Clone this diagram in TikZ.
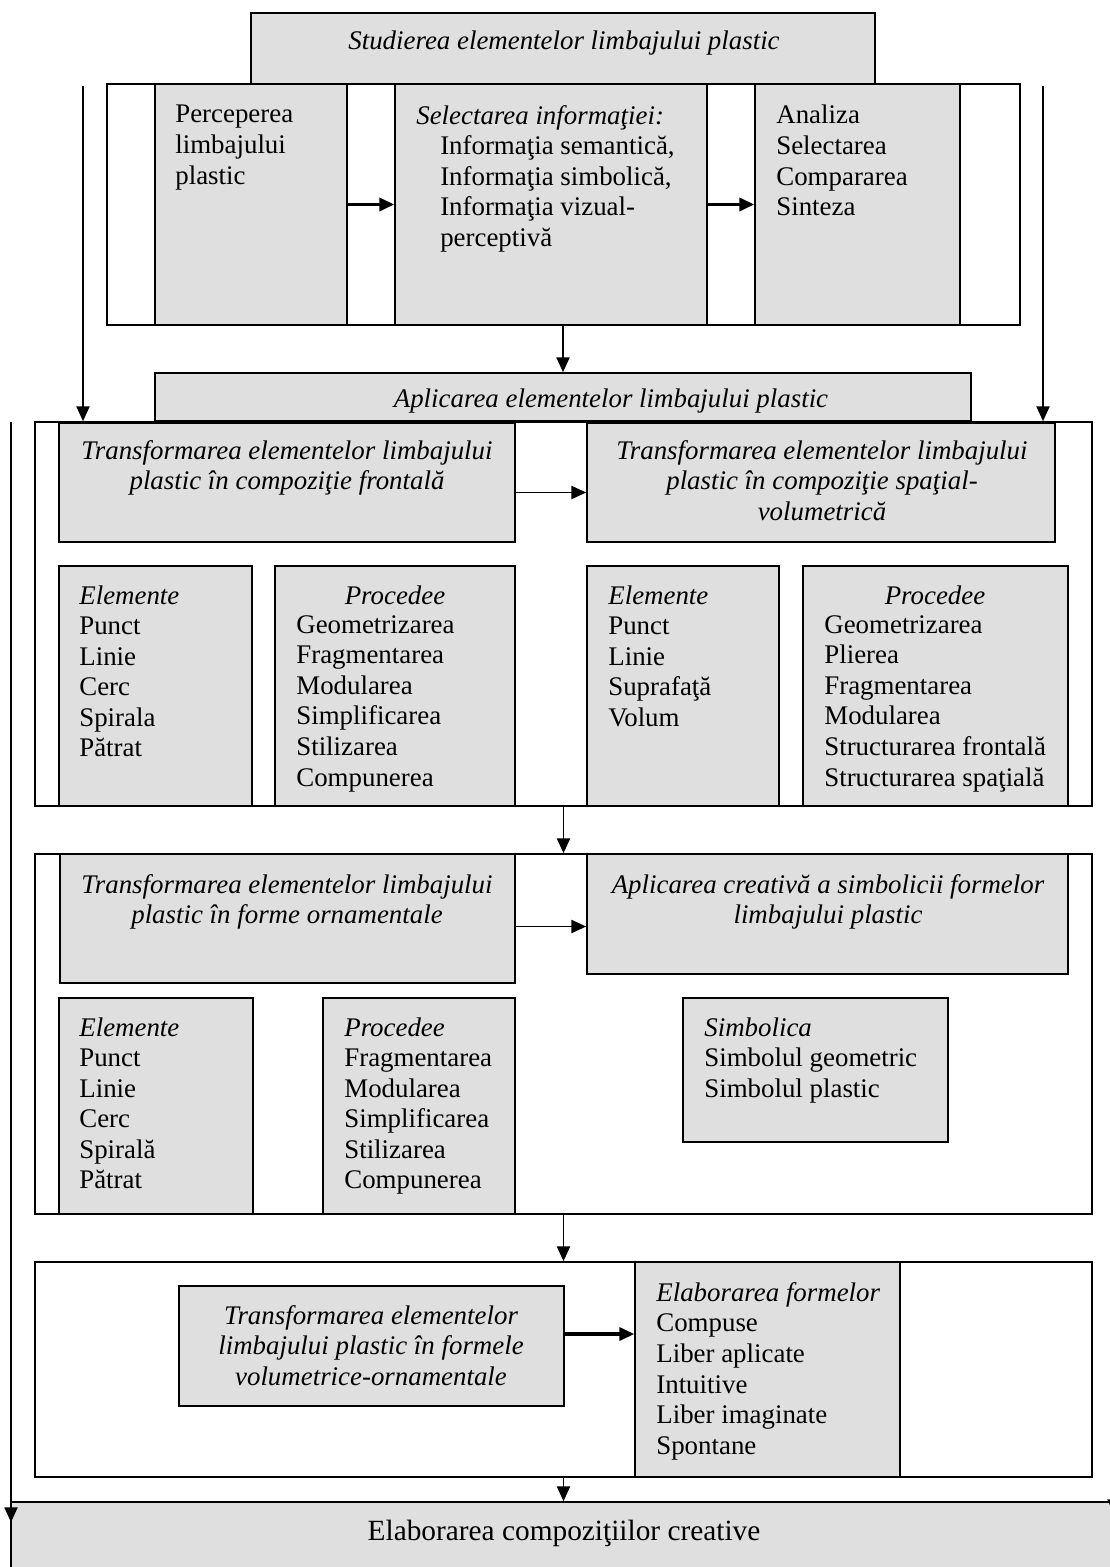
\documentclass[tikz,border=0pt]{standalone}
\usepackage{fontspec}
\setmainfont{Liberation Serif}
\usepackage{tikz}
\usetikzlibrary{arrows.meta,calc,fit}
\definecolor{grigio}{RGB}{223,223,223}
\newcommand{\marime}{\fontsize{15.3}{17.4}\selectfont}
\tikzset{
>={Triangle[length=8.5pt,width=7.5pt]},
cutie/.style={draw,fill=grigio,inner sep=0pt,line width=0.9pt},
cadru/.style={draw,inner sep=0pt,line width=0.9pt},
scris/.style={inner sep=0pt,align=left,anchor=north west},
titlu/.style={inner sep=0pt,align=center,anchor=north,font=\marime\itshape},
sageata/.style={->,line width=1pt},
sageatagr/.style={->,line width=1.8pt}}

\begin{document}
\begin{tikzpicture}[x=0.02cm,y=-0.02cm,inner sep=0pt,font=\marime]
\useasboundingbox (0,0) rectangle (1109,1567);

\node[cadru,fit={(107,84) (1020,325)}] (c1) {};
\node[cadru,fit={(35,422) (1092,806)}] (c2) {};
\node[cadru,fit={(35,854) (1092,1214)}] (c3) {};
\node[cadru,fit={(35,1262) (1092,1477)}] (c4) {};

\node[cutie,fit={(251,13) (875,84)}] (1) {};
\node[cutie,fit={(155,84) (347,325)}] (2) {};
\node[cutie,fit={(395,84) (707,325)}] (3) {};
\node[cutie,fit={(755,84) (960,325)}] (4) {};
\node[cutie,fit={(155,373) (971,421)}] (5) {};
\node[cutie,fit={(59,423) (515,542)}] (6) {};
\node[cutie,fit={(587,423) (1055,542)}] (7) {};
\node[cutie,fit={(59,566) (252,806)}] (8) {};
\node[cutie,fit={(275,566) (515,806)}] (9) {};
\node[cutie,fit={(587,566) (779,806)}] (10) {};
\node[cutie,fit={(803,566) (1068,806)}] (11) {};
\node[cutie,fit={(60,854) (515,983)}] (12) {};
\node[cutie,fit={(587,854) (1068,974)}] (13) {};
\node[cutie,fit={(59,998) (253,1214)}] (14) {};
\node[cutie,fit={(323,998) (515,1214)}] (15) {};
\node[cutie,fit={(683,998) (948,1142)}] (16) {};
\node[cutie,fit={(179,1286) (564,1406)}] (17) {};
\node[cutie,fit={(635,1262) (900,1477)}] (18) {};
\node[cutie,fit={(11,1502) (1130,1600)}] (19) {};

\node[titlu,anchor=center] (t1) at (564,43) {Studierea elementelor limbajului plastic};
\node[scris] (t2) at (175,105) {Perceperea\\limbajului\\plastic};
\node[scris] (t3) at (416,105) {\textit{Selectarea informaţiei:}\\
  \hspace*{13.6pt}Informaţia semantică,\\
  \hspace*{13.6pt}Informaţia simbolică,\\
  \hspace*{13.6pt}Informaţia vizual-\\
  \hspace*{13.6pt}perceptivă};
\node[scris] (t4) at (776,105) {Analiza\\Selectarea\\Compararea\\Sinteza};
\node[titlu,anchor=center] (t5) at (611,401) {Aplicarea elementelor limbajului plastic};
\node[titlu] (t6) at (287,440) {Transformarea elementelor limbajului\\plastic în compoziţie frontală};
\node[titlu] (t7) at (822,440) {Transformarea elementelor limbajului\\plastic în compoziţie spaţial-\\volumetrică};
\node[scris] (t8) at (79,585) {\textit{Elemente}\\Punct\\Linie\\Cerc\\Spirala\\Pătrat};
\node[titlu] (t9a) at (395,585) {Procedee};
\node[scris] (t9) at (296,615) {Geometrizarea\\Fragmentarea\\Modularea\\Simplificarea\\Stilizarea\\Compunerea};
\node[scris] (t10) at (608,585) {\textit{Elemente}\\Punct\\Linie\\Suprafaţă\\Volum};
\node[titlu] (t11a) at (935,585) {Procedee};
\node[scris] (t11) at (824,615) {Geometrizarea\\Plierea\\Fragmentarea\\Modularea\\Structurarea frontală\\Structurarea spaţială};
\node[titlu] (t12) at (287,874) {Transformarea elementelor limbajului\\plastic în forme ornamentale};
\node[titlu] (t13) at (828,874) {Aplicarea creativă a simbolicii formelor\\limbajului plastic};
\node[scris] (t14) at (79,1017) {\textit{Elemente}\\Punct\\Linie\\Cerc\\Spirală\\Pătrat};
\node[scris] (t15) at (344,1017) {\textit{Procedee}\\Fragmentarea\\Modularea\\Simplificarea\\Stilizarea\\Compunerea};
\node[scris] (t16) at (704,1017) {\textit{Simbolica}\\Simbolul geometric\\Simbolul plastic};
\node[titlu] (t17) at (371,1305) {Transformarea elementelor\\limbajului plastic în formele\\volumetrice-ornamentale};
\node[scris] (t18) at (656,1282) {\textit{Elaborarea formelor}\\Compuse\\Liber aplicate\\Intuitive\\Liber imaginate\\Spontane};
\node[anchor=center,font=\fontsize{16.7}{20}\selectfont] (t19) at (564,1533) {Elaborarea compoziţiilor creative};

\coordinate (a1) at (83,86);
\coordinate (a2) at (1043,86);
\coordinate (a3) at (11,422);
\coordinate (a4) at (1114,422);

\path[sageatagr] (2.east) edge (3.west);
\path[sageatagr] (3.east) edge (4.west);
\path[sageata] (5.north |- c1.south) edge (5.north);
\path[sageata] (a1) edge (a1 |- c2.north);
\path[sageata] (a2) edge (a2 |- c2.north);
\path[sageata] ($(6.east)+(0,10)$) edge ($(7.west)+(0,10)$);
\path[sageata] (c2.south) edge (c3.north);
\path[sageata] ($(12.east)+(0,8)$) coordinate (b1) edge (b1 -| 13.west);
\path[sageata] (c3.south) edge (c4.north);
\path[sageatagr] ($(17.east)+(0,-12)$) coordinate (b2) edge (b2 -| 18.west);
\path[sageata] (c4.south) edge (c4.south |- 19.north);
\path[sageata] (a3) edge ($(a3 |- 19.north)+(0,21)$);
\path[sageata] (a4) edge ($(a4 |- 19.north)+(0,13)$);

\end{tikzpicture}
\end{document}
